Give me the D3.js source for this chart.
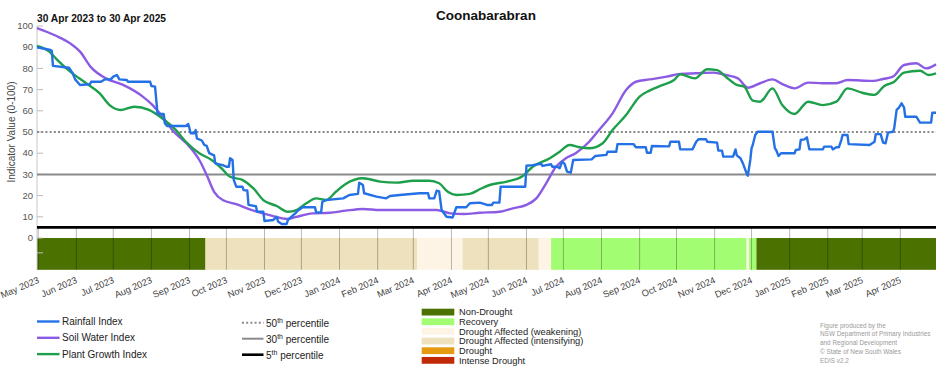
<!DOCTYPE html>
<html>
<head>
<meta charset="utf-8">
<script src="https://cdn.jsdelivr.net/npm/d3@7"></script>
<style>
  html, body { margin: 0; padding: 0; background: #fff; }
  svg { display: block; font-family: "Liberation Sans", Arial, sans-serif; }
</style>
</head>
<body>
<svg id="chart" width="952" height="370"></svg>
<script>
// ---------------- DATA ----------------
const chartTitle = "Coonabarabran";
const dateRangeLabel = "30 Apr 2023 to 30 Apr 2025";
const yAxisLabel = "Indicator Value (0-100)";
const yTickValues = [0, 10, 20, 30, 40, 50, 60, 70, 80, 90, 100];

const rainfallIndex = [
  ["2023-04-30",90],["2023-05-11",88.7],["2023-05-12",88.3],["2023-05-13",81.2],["2023-05-26",80.3],
  ["2023-05-29",77.7],["2023-05-31",74.8],["2023-06-04",72.2],["2023-06-12",72.5],["2023-06-13",73.7],
  ["2023-06-21",73.7],["2023-06-24",74.8],["2023-06-29",74.8],["2023-07-01",76.1],["2023-07-04",76.9],
  ["2023-07-06",74.8],["2023-07-12",74.5],["2023-07-13",73.7],["2023-07-31",73.7],["2023-08-01",71.7],
  ["2023-08-04",71.4],["2023-08-06",58.5],["2023-08-11",58.5],["2023-08-12",54],["2023-08-14",52.8],
  ["2023-08-29",52.8],["2023-08-31",53.8],["2023-09-02",49.4],["2023-09-05",49.4],["2023-09-06",50.9],
  ["2023-09-07",47],["2023-09-11",46],["2023-09-13",43.9],["2023-09-15",43.5],["2023-09-17",40],
  ["2023-09-21",39],["2023-09-22",35.2],["2023-09-28",34.4],["2023-10-01",33.6],["2023-10-03",33.6],
  ["2023-10-04",37.6],["2023-10-06",36.8],["2023-10-07",27.4],["2023-10-09",24.2],["2023-10-14",24.2],
  ["2023-10-15",22.6],["2023-10-18",22.4],["2023-10-19",15.6],["2023-10-25",15],["2023-10-26",12.4],
  ["2023-10-31",12.4],["2023-11-01",8],["2023-11-08",8.5],["2023-11-11",10],["2023-11-12",7.8],
  ["2023-11-15",6.6],["2023-11-19",6.6],["2023-11-20",8.5],["2023-11-26",11.6],["2023-11-28",12.9],
  ["2023-12-02",14.5],["2023-12-12",14.5],["2023-12-13",12.1],["2023-12-17",12],["2023-12-18",17.1],
  ["2023-12-21",17.9],["2024-01-04",18.7],["2024-01-09",20.3],["2024-01-16",20.8],["2024-01-17",26.1],
  ["2024-01-20",25],["2024-01-21",21.1],["2024-01-31",19.5],["2024-02-08",18.7],["2024-02-11",19.8],
  ["2024-02-19",20.3],["2024-03-06",21.1],["2024-03-13",21.1],["2024-03-14",18.7],["2024-03-18",18.7],
  ["2024-03-20",22.3],["2024-03-22",22],["2024-03-24",13.2],["2024-03-28",10],["2024-04-02",9.7],
  ["2024-04-05",14.5],["2024-04-13",14.5],["2024-04-16",16.4],["2024-04-24",16.7],["2024-04-30",15.6],
  ["2024-05-04",15.6],["2024-05-05",16.7],["2024-05-10",16.7],["2024-05-11",24.2],["2024-05-31",24.2],
  ["2024-06-01",34.1],["2024-06-06",34.4],["2024-06-13",35],["2024-06-14",34],["2024-06-21",34.8],
  ["2024-06-22",33.6],["2024-06-26",33.6],["2024-06-28",32.9],["2024-06-30",36],["2024-07-02",35],
  ["2024-07-04",31.3],["2024-07-07",30.8],["2024-07-09",36.8],["2024-07-24",37.1],["2024-07-27",38.7],
  ["2024-08-05",39.2],["2024-08-06",40.7],["2024-08-13",40.7],["2024-08-14",44.3],["2024-08-27",44.3],
  ["2024-08-29",42.8],["2024-09-06",42.8],["2024-09-07",40.2],["2024-09-10",40.2],["2024-09-11",43.4],
  ["2024-09-25",43.2],["2024-09-26",45.4],["2024-10-03",45.4],["2024-10-04",41.8],["2024-10-14",41.8],
  ["2024-10-17",45.4],["2024-10-19",46.6],["2024-10-25",46.6],["2024-10-26",45.4],["2024-11-03",45],
  ["2024-11-04",41.2],["2024-11-07",41.2],["2024-11-08",38.4],["2024-11-16",38.4],["2024-11-18",41.8],
  ["2024-11-19",39],["2024-11-22",37.6],["2024-11-24",35.2],["2024-11-27",30.5],["2024-11-28",29.4],
  ["2024-11-30",36.8],["2024-12-01",42.3],["2024-12-02",43.9],["2024-12-04",48.6],["2024-12-06",50.1],
  ["2024-12-18",50.1],["2024-12-20",42.3],["2024-12-21",41.5],["2024-12-23",38.7],["2024-12-25",40],
  ["2025-01-05",40],["2025-01-06",41.5],["2025-01-09",41.8],["2025-01-10",46.2],["2025-01-13",46.5],
  ["2025-01-15",47.5],["2025-01-17",41.8],["2025-01-28",41.8],["2025-01-29",43.1],["2025-02-04",43.1],
  ["2025-02-05",41.8],["2025-02-08",42.8],["2025-02-10",42.8],["2025-02-12",46.2],["2025-02-13",48.6],
  ["2025-02-17",48.6],["2025-02-18",44.3],["2025-03-07",43.9],["2025-03-11",45.4],["2025-03-12",49],
  ["2025-03-16",49],["2025-03-18",45],["2025-03-20",44.7],["2025-03-22",49.7],["2025-03-26",50.1],
  ["2025-03-27",51.7],["2025-03-29",60.4],["2025-03-31",61.6],["2025-04-02",63.5],["2025-04-04",61.6],
  ["2025-04-05",57.2],["2025-04-14",57.2],["2025-04-17",54.4],["2025-04-26",54.4],["2025-04-27",59.1],
  ["2025-04-30",59.1]
];

const soilWaterIndex = [
  ["2023-04-30",99],["2023-05-15",95.5],["2023-05-27",91.8],["2023-06-04",87.9],["2023-06-13",80.5],
  ["2023-06-25",75.3],["2023-07-09",72.2],["2023-07-25",66.7],["2023-08-02",62.7],["2023-08-10",57.2],
  ["2023-08-18",50.9],["2023-09-01",43.1],["2023-09-09",36.8],["2023-09-15",29.7],["2023-09-21",21.8],
  ["2023-09-28",17.9],["2023-10-09",16],["2023-10-20",13.5],["2023-11-05",10.8],["2023-11-20",9],
  ["2023-11-27",10],["2023-12-10",11.6],["2023-12-24",11.9],["2024-01-06",12.9],["2024-01-20",13.7],
  ["2024-02-03",13.2],["2024-03-01",13.2],["2024-03-20",13.2],["2024-03-31",11.6],["2024-04-11",11.3],
  ["2024-04-24",11.9],["2024-05-10",12.4],["2024-05-21",14],["2024-06-01",15.6],["2024-06-09",18.7],
  ["2024-06-17",25.8],["2024-06-25",33.6],["2024-07-03",37.6],["2024-07-11",40],["2024-07-22",45.4],
  ["2024-07-30",50.9],["2024-08-10",58.8],["2024-08-21",69.8],["2024-08-29",73.7],["2024-09-09",74.8],
  ["2024-09-23",76.1],["2024-10-04",77.4],["2024-10-17",77.7],["2024-10-31",78],["2024-11-10",76.9],
  ["2024-11-20",75.3],["2024-11-28",70.9],["2024-12-08",73],["2024-12-18",74.8],["2024-12-26",72.6],
  ["2025-01-05",70.6],["2025-01-16",73.3],["2025-01-28",73],["2025-02-08",73],["2025-02-17",74.5],
  ["2025-03-10",74.1],["2025-03-18",75],["2025-03-26",76.1],["2025-04-04",81.6],["2025-04-14",82.4],
  ["2025-04-22",80],["2025-04-30",81.9]
];

const plantGrowthIndex = [
  ["2023-04-30",90.6],["2023-05-10",87.9],["2023-05-16",84.3],["2023-05-27",78.5],["2023-06-09",73],
  ["2023-06-20",68.2],["2023-06-28",62.7],["2023-07-07",60.4],["2023-07-18",61.9],["2023-07-30",60.4],
  ["2023-08-10",56.4],["2023-08-21",50.9],["2023-08-29",45.4],["2023-09-09",40],["2023-09-19",36.8],
  ["2023-09-27",32.9],["2023-10-04",28.9],["2023-10-14",27.4],["2023-10-23",23.4],["2023-10-31",17.9],
  ["2023-11-11",15.1],["2023-11-20",12.4],["2023-11-27",13.2],["2023-12-05",16.4],["2023-12-13",18.7],
  ["2023-12-21",17.9],["2023-12-29",21.8],["2024-01-06",25.5],["2024-01-20",28.2],["2024-02-03",26.6],
  ["2024-02-16",26.1],["2024-03-01",27],["2024-03-14",27],["2024-03-22",25.8],["2024-03-29",21.8],
  ["2024-04-05",20.3],["2024-04-16",20.8],["2024-04-24",23],["2024-05-02",25],["2024-05-16",26.6],
  ["2024-05-29",29.2],["2024-06-06",33.6],["2024-06-20",37.6],["2024-06-28",40.7],["2024-07-06",43.9],
  ["2024-07-14",42.8],["2024-07-22",42.3],["2024-08-02",44.7],["2024-08-10",50.9],["2024-08-21",58],
  ["2024-09-01",66.7],["2024-09-09",69.5],["2024-09-20",72.2],["2024-09-29",74.5],["2024-10-04",77.2],
  ["2024-10-16",75.3],["2024-10-26",79.6],["2024-11-03",79.2],["2024-11-10",76.1],["2024-11-19",72.2],
  ["2024-11-25",71.4],["2024-12-02",64.8],["2024-12-08",64.3],["2024-12-18",70.6],["2024-12-26",62.7],
  ["2025-01-05",58.5],["2025-01-16",64.3],["2025-01-28",62.7],["2025-02-08",64.3],["2025-02-17",70.6],
  ["2025-03-01",68.5],["2025-03-11",67.5],["2025-03-19",71.7],["2025-03-27",73.7],["2025-04-04",78],
  ["2025-04-17",78.9],["2025-04-24",76.9],["2025-04-30",77.7]
];

const percentileValues = [50, 30, 5];
const percentileNames = ["50", "30", "5"];

const droughtCategories = ["Non-Drought", "Recovery", "Drought Affected (weakening)",
  "Drought Affected (intensifying)", "Drought", "Intense Drought"];
const droughtColors = ["#4b7200", "#a3fd72", "#fdf4e6", "#eee1bd", "#e59a0f", "#c02a07"];

const droughtPeriods = [
  ["2023-04-30","2023-09-14","Non-Drought"],
  ["2023-09-14","2024-03-04","Drought Affected (intensifying)"],
  ["2024-03-04","2024-04-10","Drought Affected (weakening)"],
  ["2024-04-10","2024-06-11","Drought Affected (intensifying)"],
  ["2024-06-11","2024-06-21","Drought Affected (weakening)"],
  ["2024-06-21","2024-11-27","Recovery"],
  ["2024-11-27","2024-11-29","Drought Affected (weakening)"],
  ["2024-11-29","2024-12-05","Recovery"],
  ["2024-12-05","2025-04-30","Non-Drought"]
];

const seriesNames = ["Rainfall Index", "Soil Water Index", "Plant Growth Index"];
const seriesColors = ["#2371e5", "#8b5be3", "#1d9f4b"];

const credits = ["Figure produced by the", "NSW Department of Primary Industries",
  "and Regional Development", "\u00A9 State of New South Wales", "EDIS v2.2"];

// ---------------- DRAW ----------------
const parse = d3.timeParse("%Y-%m-%d");
const svg = d3.select("#chart");

const x = d3.scaleTime()
  .domain([parse("2023-04-30"), parse("2025-04-30")])
  .range([37, 936]);
const y = d3.scaleLinear().domain([-15, 100]).range([269.8, 26]);

// drought band
const colorOf = d3.scaleOrdinal().domain(droughtCategories).range(droughtColors);
svg.append("g").selectAll("rect").data(droughtPeriods).join("rect")
  .attr("x", d => x(parse(d[0])))
  .attr("width", d => Math.max(0, x(parse(d[1])) - x(parse(d[0]))))
  .attr("y", y(0))
  .attr("height", y(-15) - y(0))
  .attr("fill", d => colorOf(d[2]));

// month gridlines in the band area
const months = d3.timeMonth.range(parse("2023-05-01"), parse("2025-04-30"));
svg.append("g").selectAll("line").data(months).join("line")
  .attr("x1", d => x(d)).attr("x2", d => x(d))
  .attr("y1", y(5)).attr("y2", y(-15))
  .attr("stroke", "rgba(0,0,0,0.28)").attr("stroke-width", 1);

// y axis line and ticks
svg.append("line").attr("x1", 37).attr("x2", 37).attr("y1", y(100)).attr("y2", y(-15))
  .attr("stroke", "#c8c8c8").attr("stroke-width", 1);
const yt = svg.append("g");
yt.selectAll("line").data(yTickValues.concat([-7])).join("line")
  .attr("x1", 37).attr("x2", 43)
  .attr("y1", d => y(d)).attr("y2", d => y(d))
  .attr("stroke", "#bdbdbd").attr("stroke-width", 1);
yt.selectAll("text").data(yTickValues).join("text")
  .attr("x", 33).attr("y", d => y(d) + 3.2)
  .attr("text-anchor", "end")
  .attr("font-size", 9.5).attr("fill", "#555")
  .text(d => d);

// y axis label
svg.append("text")
  .attr("transform", `translate(15, ${y(50)}) rotate(-90)`)
  .attr("text-anchor", "middle")
  .attr("font-size", 10).attr("fill", "#444")
  .text(yAxisLabel);

// percentile reference lines
const pStyles = [
  {stroke: "#8a8a8a", width: 2, dash: "2,2.2"},
  {stroke: "#8a8a8a", width: 2, dash: null},
  {stroke: "#000", width: 2.6, dash: null}
];
svg.append("g").selectAll("line").data(percentileValues).join("line")
  .attr("x1", 37).attr("x2", 936)
  .attr("y1", d => y(d)).attr("y2", d => y(d))
  .attr("stroke", (d, i) => pStyles[i].stroke)
  .attr("stroke-width", (d, i) => pStyles[i].width)
  .attr("stroke-dasharray", (d, i) => pStyles[i].dash);

// series lines
const smoothLine = d3.line().x(d => x(parse(d[0]))).y(d => y(d[1])).curve(d3.curveMonotoneX);
const stepLine = d3.line().x(d => x(parse(d[0]))).y(d => y(d[1])).curve(d3.curveLinear);
const seriesData = [
  {data: soilWaterIndex, color: seriesColors[1], gen: smoothLine},
  {data: plantGrowthIndex, color: seriesColors[2], gen: smoothLine},
  {data: rainfallIndex, color: seriesColors[0], gen: stepLine}
];
svg.append("g").selectAll("path").data(seriesData).join("path")
  .attr("d", s => s.gen(s.data))
  .attr("fill", "none")
  .attr("stroke", s => s.color)
  .attr("stroke-width", 2.4)
  .attr("stroke-linejoin", "round");

// x axis labels
const fmt = d3.timeFormat("%b %Y");
svg.append("g").selectAll("text").data(months).join("text")
  .attr("transform", d => `translate(${x(d) + 1.5}, 282.5) rotate(-23)`)
  .attr("text-anchor", "end")
  .attr("font-size", 9.3).attr("fill", "#444")
  .text(d => fmt(d));

// titles
svg.append("text").attr("x", 486).attr("y", 19.5).attr("text-anchor", "middle")
  .attr("font-size", 13.5).attr("font-weight", "bold").attr("fill", "#111")
  .text(chartTitle);
svg.append("text").attr("x", 37).attr("y", 21.5)
  .attr("font-size", 10).attr("font-weight", "bold").attr("fill", "#111")
  .attr("textLength", 129).attr("lengthAdjust", "spacingAndGlyphs")
  .text(dateRangeLabel);

// series legend
const sl = svg.append("g");
seriesNames.forEach((n, i) => {
  const yy = 321.5 + i * 16.3;
  sl.append("line").attr("x1", 37).attr("x2", 59.5).attr("y1", yy).attr("y2", yy)
    .attr("stroke", seriesColors[i]).attr("stroke-width", 2.4);
  sl.append("text").attr("x", 62).attr("y", yy + 3.5)
    .attr("font-size", 10).attr("fill", "#222").text(n);
});

// percentile legend
const pl = svg.append("g");
percentileNames.forEach((n, i) => {
  const yy = 322.7 + i * 16;
  pl.append("line").attr("x1", 242).attr("x2", 263.5).attr("y1", yy).attr("y2", yy)
    .attr("stroke", pStyles[i].stroke).attr("stroke-width", pStyles[i].width)
    .attr("stroke-dasharray", pStyles[i].dash);
  const t = pl.append("text").attr("x", 266).attr("y", yy + 4)
    .attr("font-size", 10).attr("fill", "#222");
  t.append("tspan").text(n);
  t.append("tspan").attr("dy", -4).attr("font-size", 7).text("th");
  t.append("tspan").attr("dy", 4).text(" percentile");
});

// drought legend
const dl = svg.append("g");
droughtCategories.forEach((c, i) => {
  const yy = 308.7 + i * 9.65;
  dl.append("rect").attr("x", 421.7).attr("y", yy).attr("width", 32.6).attr("height", 6.8)
    .attr("fill", droughtColors[i]);
  dl.append("text").attr("x", 459).attr("y", yy + 6.6)
    .attr("font-size", 9.3).attr("fill", "#222").text(c);
});

// credits
const cr = svg.append("g");
credits.forEach((c, i) => {
  cr.append("text").attr("x", 820).attr("y", 327.5 + i * 8.9)
    .attr("font-size", 6.4).attr("fill", "#9a9a9a").text(c);
});
</script>
</body>
</html>
